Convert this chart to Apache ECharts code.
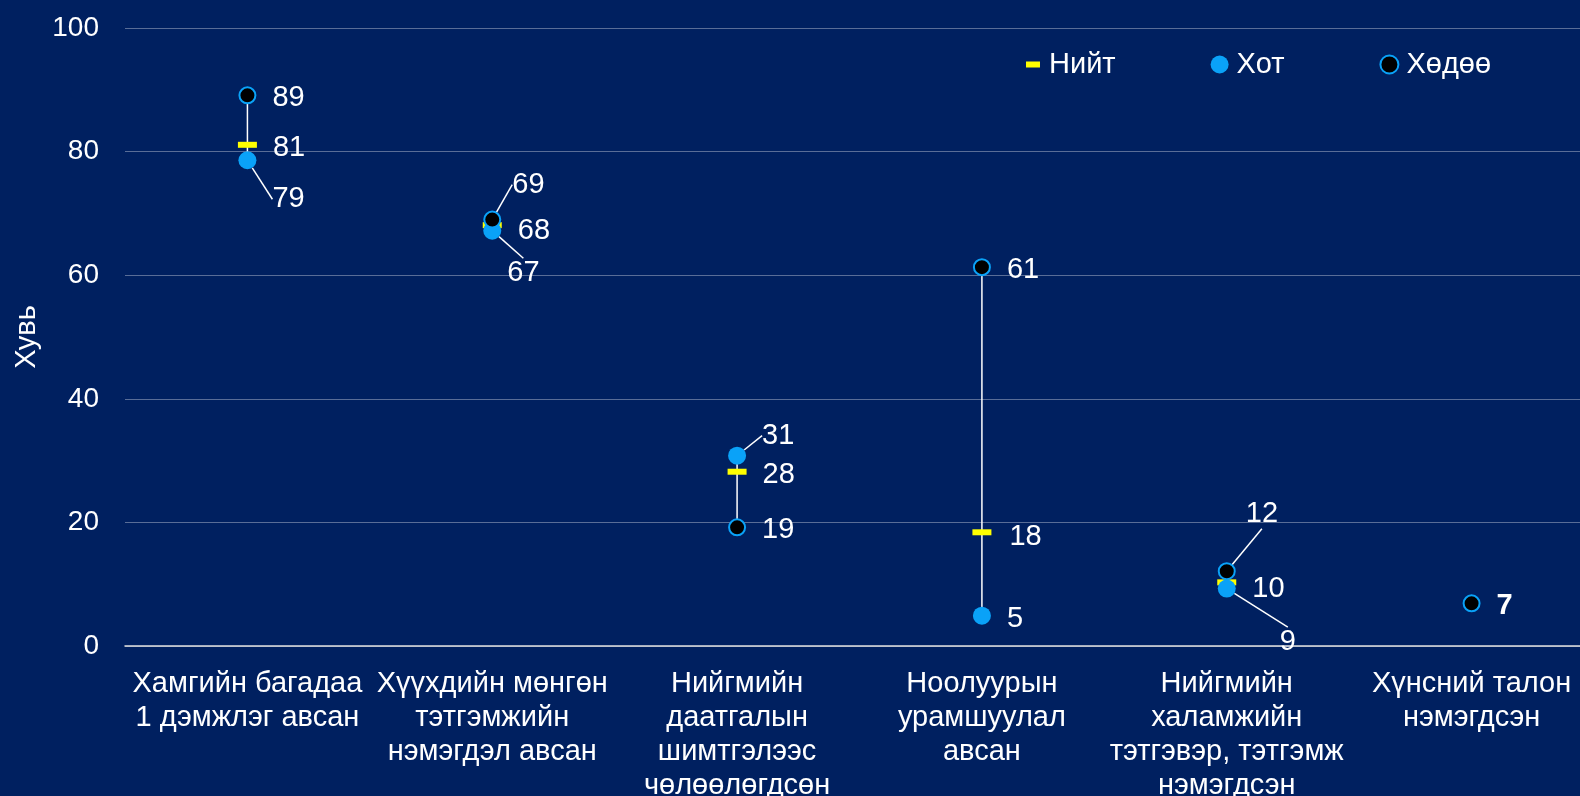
<!DOCTYPE html>
<html>
<head>
<meta charset="utf-8">
<script src="https://cdn.jsdelivr.net/npm/echarts@6/dist/echarts.min.js"></script>
<style>
    html, body { margin: 0; padding: 0; background: #002060; overflow: hidden; }
    #chart { width: 1580px; height: 796px; }
</style>
</head>
<body>
<div id="chart"></div>
<script>
const categories = [
    'Хамгийн багадаа\n1 дэмжлэг авсан',
    'Хүүхдийн мөнгөн\nтэтгэмжийн\nнэмэгдэл авсан',
    'Нийгмийн\nдаатгалын\nшимтгэлээс\nчөлөөлөгдсөн',
    'Ноолуурын\nурамшуулал\nавсан',
    'Нийгмийн\nхаламжийн\nтэтгэвэр, тэтгэмж\nнэмэгдсэн',
    'Хүнсний талон\nнэмэгдсэн'
];
const totalValues = [81.1, 68.1, 28.2, 18.4, 10.3, null];
const urbanValues = [78.6, 67.2, 30.8, 4.9, 9.3, null];
const ruralValues = [89.1, 69.0, 19.2, 61.3, 12.1, 6.9];
const yTicks = [0, 20, 40, 60, 80, 100];

// label nudges (px) per data index, like the moved labels in the original
const totalShift = { 1: [0, 3], 3: [2, 2], 4: [0, 4] };
const urbanShift = { 0: [0, 36], 1: [-10, 39], 2: [0, -23], 4: [28, 50] };
const ruralShift = { 1: [-5, -38], 4: [-6, -60] };

const fontFamily = '"Liberation Sans", Arial, sans-serif';
const blue = '#0aa2f8';

// min/max range per category for the connector line
const ranges = categories.map((c, i) => {
    const vals = [totalValues[i], urbanValues[i], ruralValues[i]].filter(v => v != null);
    return [i, Math.min(...vals), Math.max(...vals)];
}).filter(r => r[1] !== r[2]);

function shiftLayout(shift) {
    return function (params) {
        const s = shift[params.dataIndex] || [0, 0];
        return { dx: s[0], dy: s[1] + 3 };
    };
}

function shiftedData(values, shift, withLine) {
    return values.map((v, i) => {
        if (v == null) return null;
        return { value: v, labelLine: { show: !!(withLine && shift[i]) } };
    });
}

const labelBase = {
    show: true,
    position: 'right',
    distance: 16,
    color: '#ffffff',
    textBorderWidth: 0,
    fontSize: 29,
    fontFamily: fontFamily,
    formatter: p => Math.round(p.value)
};
const labelLineBase = { show: true, lineStyle: { color: '#fff', width: 1.5, opacity: 1 } };

const chart = echarts.init(document.getElementById('chart'));
chart.setOption({
    backgroundColor: '#002060',
    animation: false,
    textStyle: { fontFamily: fontFamily },
    grid: { left: 125, right: -14, top: 28, bottom: 150, outerBoundsMode: 'none', containLabel: false },
    legend: {
        left: 1019,
        top: 45,
        itemWidth: 18,
        itemHeight: 18,
        itemGap: 95,
        textStyle: { color: '#fff', fontSize: 29, fontFamily: fontFamily, padding: [0, 0, 0, 3] },
        data: [
            { name: 'Нийт', icon: 'path://M0,0h0.01v0.01h-0.01zM2,6h14v6h-14zM0,18h0.01v0.01h-0.01z' },
            { name: 'Хот', icon: 'circle' },
            { name: 'Хөдөө', icon: 'circle' }
        ]
    },
    xAxis: {
        type: 'category',
        data: categories,
        axisTick: { show: false },
        axisLine: { lineStyle: { color: '#e0e0e0', width: 1.5 } },
        axisLabel: {
            interval: 0,
            color: '#fff',
            fontSize: 29,
            lineHeight: 34,
            margin: 21,
            fontFamily: fontFamily
        }
    },
    yAxis: {
        type: 'value',
        min: yTicks[0],
        max: yTicks[yTicks.length - 1],
        interval: 20,
        name: 'Хувь',
        nameLocation: 'middle',
        nameGap: 82,
        nameTextStyle: { color: '#fff', fontSize: 29, fontFamily: fontFamily },
        axisLine: { show: false },
        axisTick: { show: false },
        axisLabel: { color: '#fff', fontSize: 28, margin: 26, fontFamily: fontFamily },
        splitLine: { lineStyle: { color: 'rgba(255,255,255,0.35)', width: 1 } }
    },
    series: [
        {
            type: 'custom',
            name: 'range',
            z: 1,
            silent: true,
            data: ranges,
            renderItem: function (params, api) {
                const a = api.coord([api.value(0), api.value(1)]);
                const b = api.coord([api.value(0), api.value(2)]);
                return {
                    type: 'line',
                    shape: { x1: a[0], y1: a[1], x2: b[0], y2: b[1] },
                    style: { stroke: '#fff', lineWidth: 1.5 }
                };
            }
        },
        {
            name: 'Нийт',
            type: 'scatter',
            z: 2,
            symbol: 'rect',
            symbolSize: [19, 6],
            itemStyle: { color: '#ffff00', opacity: 1 },
            data: shiftedData(totalValues, totalShift, false),
            label: labelBase,
            labelLine: labelLineBase,
            labelLayout: shiftLayout(totalShift)
        },
        {
            name: 'Хот',
            type: 'scatter',
            z: 3,
            symbol: 'circle',
            symbolSize: 18,
            itemStyle: { color: blue, opacity: 1 },
            data: shiftedData(urbanValues, urbanShift, true),
            label: labelBase,
            labelLine: labelLineBase,
            labelLayout: shiftLayout(urbanShift)
        },
        {
            name: 'Хөдөө',
            type: 'scatter',
            z: 4,
            symbol: 'circle',
            symbolSize: 16,
            itemStyle: { color: '#000', borderColor: blue, borderWidth: 2, opacity: 1 },
            data: shiftedData(ruralValues, ruralShift, true).map((d, i) =>
                i === 5 ? { value: ruralValues[i], label: { fontWeight: 'bold' }, labelLine: { show: false } } : d),
            label: labelBase,
            labelLine: labelLineBase,
            labelLayout: shiftLayout(ruralShift)
        }
    ]
});
</script>
</body>
</html>
